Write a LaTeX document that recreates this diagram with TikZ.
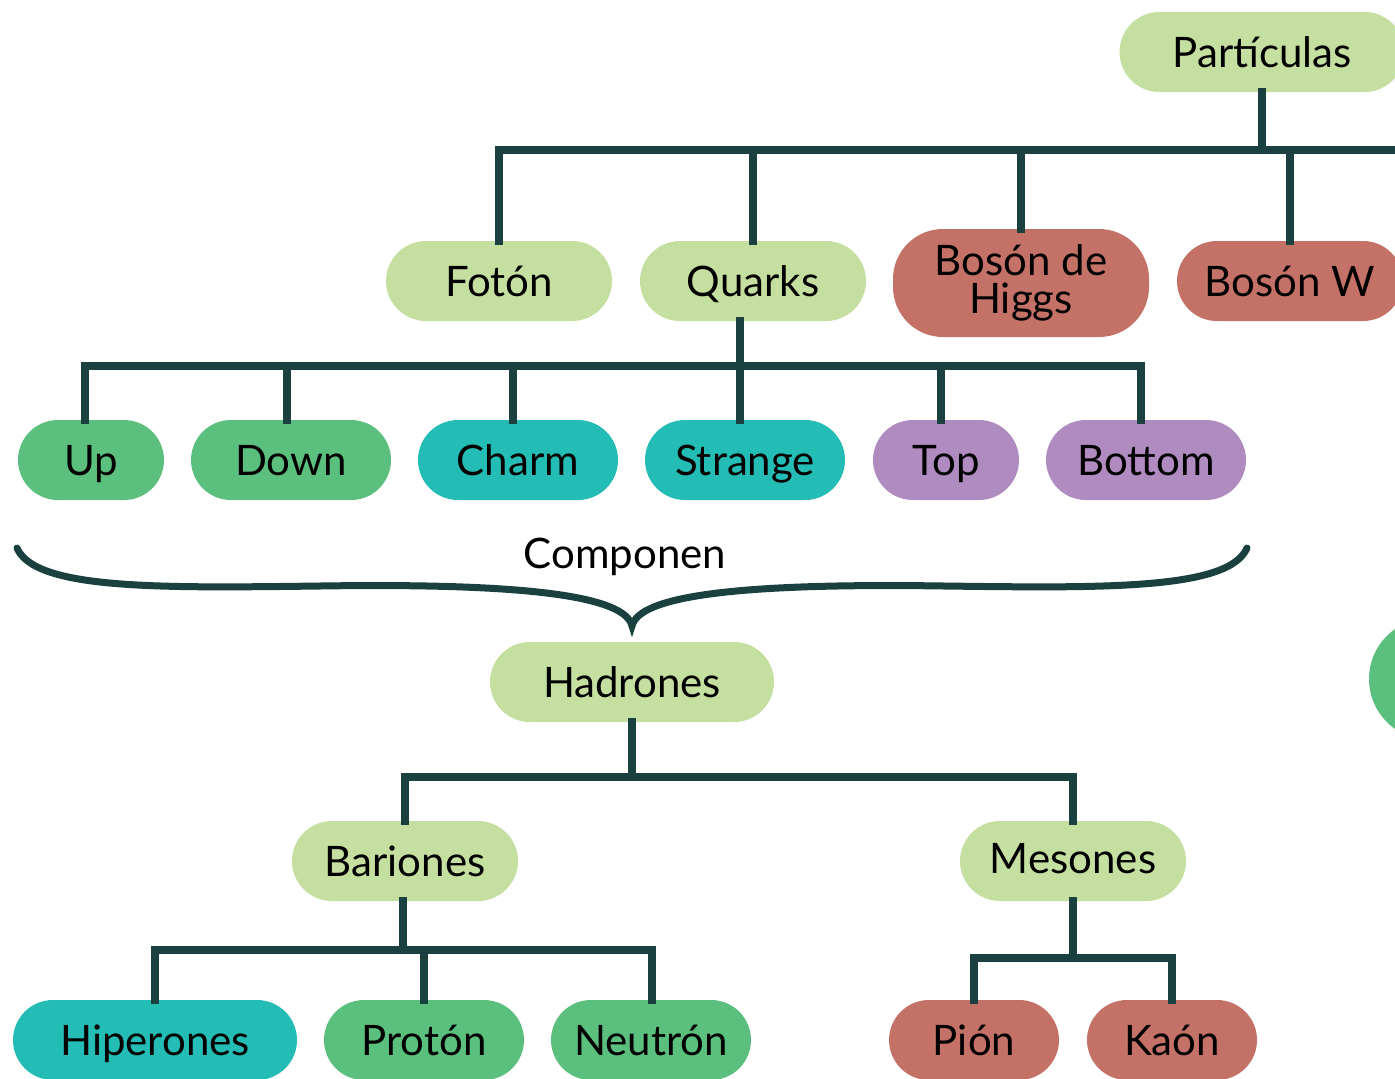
\documentclass[tikz,border=0pt]{standalone}
\usepackage{fontspec}
\setmainfont{Lato}
\definecolor{lgreen}{HTML}{C5DFA0}
\definecolor{pred}{HTML}{C47267}
\definecolor{pgreen}{HTML}{5BBF7E}
\definecolor{pteal}{HTML}{24BDB5}
\definecolor{ppurple}{HTML}{AF8BC0}
\definecolor{conncol}{HTML}{1A4040}
\tikzset{
  pillbase/.style={rounded corners=40pt, minimum height=80pt, inner sep=0pt, text=black,
    font=\fontsize{42}{38}\selectfont},
  pill/.style={pillbase, text height=35pt, text depth=5pt},
  conn/.style={draw=conncol, line width=8pt, line cap=rect},
}
\begin{document}
\begin{tikzpicture}[x=1pt,y=-1pt]
\clip (0,0) rectangle (1395,1079);
\fill[white] (0,0) rectangle (1395,1079);
% nodes
\node[pill, fill=lgreen, minimum width=285pt] (part) at (1262,52) {Partículas};
\node[pill, fill=lgreen, minimum width=226pt] (foton) at (499,281) {Fotón};
\node[pill, fill=lgreen, minimum width=226pt] (quarks) at (753,281) {Quarks};
\node[pillbase, fill=pred, minimum width=256pt, minimum height=108pt, rounded corners=50pt, align=center] (higgs) at (1021,283) {Bosón de\\Higgs};
\node[pill, fill=pred, minimum width=226pt] (bosw) at (1290,281) {Bosón W};
\node[pill, fill=pgreen, minimum width=146pt] (up) at (91,460) {Up};
\node[pill, fill=pgreen, minimum width=200pt] (down) at (291,460) {Down};
\node[pill, fill=pteal, minimum width=200pt] (charm) at (518,460) {Charm};
\node[pill, fill=pteal, minimum width=200pt] (strange) at (745,460) {Strange};
\node[pill, fill=ppurple, minimum width=146pt] (top) at (946,460) {Top};
\node[pill, fill=ppurple, minimum width=200pt] (bottom) at (1146,460) {Bottom};
\node[font=\fontsize{42}{40}\selectfont, inner sep=0pt, text height=35pt, text depth=5pt] (comp) at (625,553) {Componen};
\node[pill, fill=lgreen, minimum width=284pt] (hadr) at (632,682) {Hadrones};
\node[pill, fill=lgreen, minimum width=226pt] (bar) at (405,861) {Bariones};
\node[pill, fill=lgreen, minimum width=226pt, text height=32pt, text depth=8pt] (mes) at (1073,861) {Mesones};
\node[pill, fill=pteal, minimum width=284pt] (hip) at (155,1040) {Hiperones};
\node[pill, fill=pgreen, minimum width=200pt] (prot) at (424,1040) {Protón};
\node[pill, fill=pgreen, minimum width=200pt] (neut) at (651,1040) {Neutrón};
\node[pill, fill=pred, minimum width=170pt] (pion) at (974,1040) {Pión};
\node[pill, fill=pred, minimum width=170pt] (kaon) at (1172,1040) {Kaón};
\node[pillbase, fill=pgreen, minimum width=200pt, minimum height=122pt, rounded corners=61pt] (edge) at (1469,679) {};
% connectors level 1
\coordinate (b1) at (0,150);
\coordinate (b1r) at (1400,150);
\draw[conn] (part.south) -- (part.south |- b1);
\draw[conn] (foton.north |- b1) -- (b1r);
\draw[conn] (foton.north) -- (foton.north |- b1);
\draw[conn] (quarks.north) -- (quarks.north |- b1);
\draw[conn] (higgs.north) -- (higgs.north |- b1);
\draw[conn] (bosw.north) -- (bosw.north |- b1);
% quarks
\coordinate (b2) at (740,366);
\coordinate (xup) at (85,366);
\coordinate (xdown) at (287,366);
\coordinate (xcharm) at (513,366);
\coordinate (xtop) at (941,366);
\coordinate (xbot) at (1141,366);
\draw[conn] (quarks.south -| b2) -- (b2);
\draw[conn] (xup) -- (xbot);
\draw[conn] (up.north -| xup) -- (xup);
\draw[conn] (down.north -| xdown) -- (xdown);
\draw[conn] (charm.north -| xcharm) -- (xcharm);
\draw[conn] (strange.north -| b2) -- (b2);
\draw[conn] (top.north -| xtop) -- (xtop);
\draw[conn] (bottom.north -| xbot) -- (xbot);
% brace
\draw[draw=conncol, line width=7pt, line cap=round]
  (17,548) .. controls (35,590) and (160,588) .. (320,586)
  .. controls (520,583) and (625,595) .. (632,626)
  .. controls (639,595) and (744,583) .. (944,586)
  .. controls (1104,588) and (1229,590) .. (1247,548);
% hadrones
\coordinate (b3) at (632,777);
\draw[conn] (hadr.south) -- (b3);
\draw[conn] (bar.north |- b3) -- (mes.north |- b3);
\draw[conn] (bar.north) -- (bar.north |- b3);
\draw[conn] (mes.north) -- (mes.north |- b3);
% bariones
\coordinate (b4) at (403,950);
\coordinate (xneut) at (652,950);
\draw[conn] (bar.south -| b4) -- (b4);
\draw[conn] (hip.north |- b4) -- (xneut);
\draw[conn] (hip.north) -- (hip.north |- b4);
\draw[conn] (prot.north) -- (prot.north |- b4);
\draw[conn] (neut.north -| xneut) -- (xneut);
% mesones
\coordinate (b5) at (1073,958);
\draw[conn] (mes.south) -- (b5);
\draw[conn] (pion.north |- b5) -- (kaon.north |- b5);
\draw[conn] (pion.north) -- (pion.north |- b5);
\draw[conn] (kaon.north) -- (kaon.north |- b5);
\end{tikzpicture}
\end{document}
